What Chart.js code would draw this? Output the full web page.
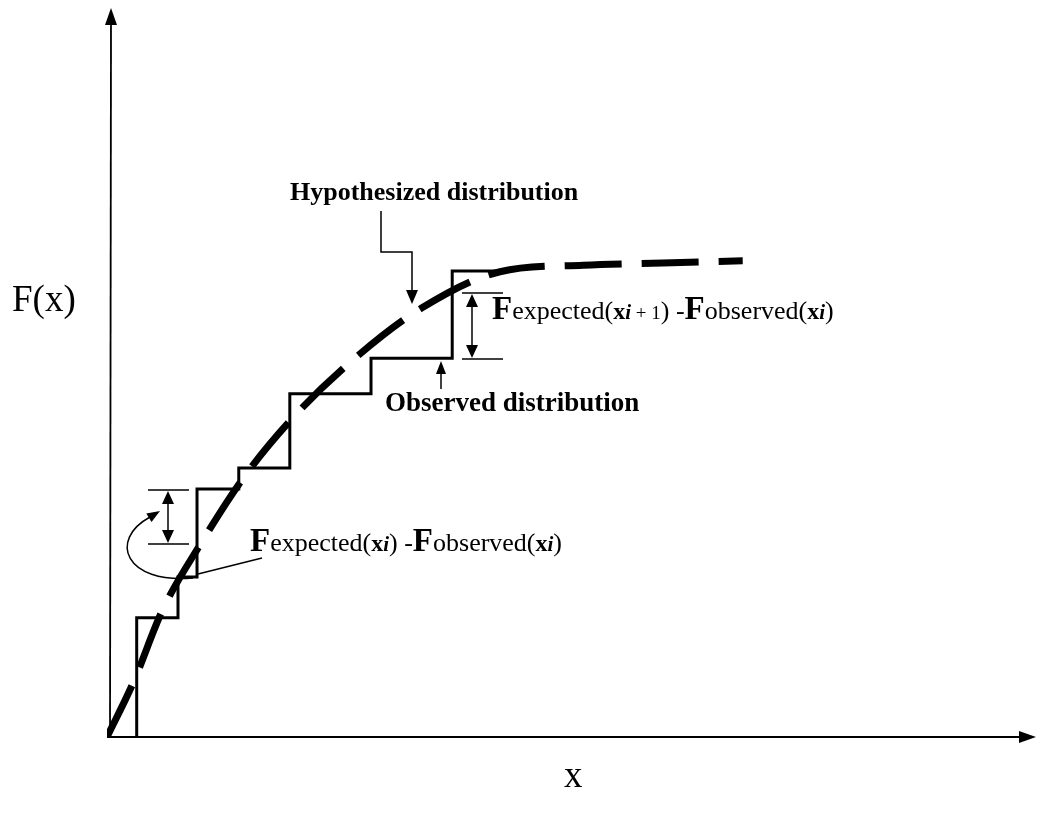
<!DOCTYPE html>
<html>
<head>
<meta charset="utf-8">
<script src="https://cdn.jsdelivr.net/npm/chart.js@4.4.1/dist/chart.umd.min.js"></script>
<style>
  html,body{margin:0;padding:0;background:#fff;}
  #wrap{width:1038px;height:815px;}
</style>
</head>
<body>
<div id="wrap"><canvas id="ks" width="1038" height="815"></canvas></div>
<script>
// observed (empirical) step function: riser positions and the level reached at each riser
const stepX = [0.32, 0.765, 0.97, 1.42, 1.97, 2.845, 3.72, 4.235];
const stepF = [0, 0.164, 0.22, 0.341, 0.37, 0.472, 0.521, 0.641];
// hypothesized distribution (dashed curve)
const hypX = [0, 0.28, 0.60, 1.02, 1.49, 2.06, 2.69, 3.39, 4.235, 5.13, 5.99, 6.85];
const hypF = [0, 0.074, 0.175, 0.268, 0.36, 0.447, 0.523, 0.59, 0.64, 0.649, 0.652, 0.655];

function byId(id){return document.getElementById(id);}

function stepPoints(){
  const pts = [{x:stepX[0], y:stepF[0]}];
  for(let i=0;i<stepX.length;i++){
    pts.push({x:stepX[i], y:stepF[i+1]!==undefined ? stepF[i+1] : stepF[i]});
    if(i+1<stepX.length) pts.push({x:stepX[i+1], y:stepF[i+1]});
  }
  return pts;
}

const SERIF = "'Liberation Serif', 'DejaVu Serif', serif";

function arrowHead(ctx, x, y, ang, len, half){
  ctx.save();
  ctx.translate(x,y); ctx.rotate(ang);
  ctx.beginPath();
  ctx.moveTo(0,0); ctx.lineTo(-len,-half); ctx.lineTo(-len,half); ctx.closePath();
  ctx.fill();
  ctx.restore();
}

function line(ctx, pts){
  ctx.beginPath(); ctx.moveTo(pts[0][0],pts[0][1]);
  for(let i=1;i<pts.length;i++) ctx.lineTo(pts[i][0],pts[i][1]);
  ctx.stroke();
}

function rich(ctx, x, y, segs){
  segs.forEach(s=>{ ctx.font = s.f; ctx.fillText(s.t, x, y + (s.dy||0)); x += ctx.measureText(s.t).width; });
}

function diffLabel(sub){
  const big = "bold 33px "+SERIF, reg = "26px "+SERIF, it = "italic bold 21px "+SERIF, xs = "bold 24px "+SERIF;
  const a = [{t:"F",f:big},{t:"expected",f:reg},{t:"(",f:reg},{t:"x",f:xs},{t:"i",f:it}];
  if(sub) a.push({t:" + 1",f:"19px "+SERIF});
  a.push({t:") -",f:reg},{t:"F",f:big},{t:"observed",f:reg},{t:"(",f:reg},{t:"x",f:xs},{t:"i",f:it},{t:")",f:reg});
  return a;
}

const overlay = {
  id:"overlay",
  afterDraw(chart){
    const ctx = chart.ctx, a = chart.chartArea;
    ctx.save();
    ctx.fillStyle = "#000"; ctx.strokeStyle = "#000";
    // axes
    ctx.lineWidth = 1.8;
    line(ctx, [[a.left+3, a.bottom],[a.left+4, a.top+14]]);
    arrowHead(ctx, a.left+4, a.top-2, -Math.PI/2, 17, 6);
    ctx.lineWidth = 2.2;
    line(ctx, [[a.left, a.bottom],[a.right-14, a.bottom]]);
    arrowHead(ctx, a.right+1, a.bottom, 0, 17, 6);

    ctx.lineWidth = 1.5;
    // hypothesized pointer
    line(ctx, [[381,211],[381,252],[412,252],[412,292]]);
    arrowHead(ctx, 412, 304, Math.PI/2, 14, 6);
    // observed pointer
    line(ctx, [[441,389],[441,372]]);
    arrowHead(ctx, 441, 361, -Math.PI/2, 13, 5);
    // right double arrow
    line(ctx, [[462,293],[503,293]]); line(ctx, [[462,359],[503,359]]);
    line(ctx, [[472,305],[472,347]]);
    arrowHead(ctx, 472, 294, -Math.PI/2, 13, 6); arrowHead(ctx, 472, 358, Math.PI/2, 13, 6);
    // left double arrow
    line(ctx, [[148,490],[189,490]]); line(ctx, [[148,544],[189,544]]);
    line(ctx, [[168,502],[168,532]]);
    arrowHead(ctx, 168, 491, -Math.PI/2, 13, 6); arrowHead(ctx, 168, 543, Math.PI/2, 13, 6);
    // label pointer and curved arrow
    line(ctx, [[198,574],[262,558]]);
    ctx.beginPath(); ctx.moveTo(193,578); ctx.bezierCurveTo(125,584,108,540,150,517); ctx.stroke();
    arrowHead(ctx, 160, 511, -0.55, 13, 5);

    // texts
    ctx.textBaseline = "alphabetic";
    ctx.font = "bold 26px "+SERIF;
    ctx.fillText("Hypothesized distribution", 290, 200);
    ctx.font = "bold 27px "+SERIF;
    ctx.fillText("Observed distribution", 385, 411);
    rich(ctx, 492, 319, diffLabel(true));
    rich(ctx, 250, 551, diffLabel(false));
    ctx.font = "37px "+SERIF;
    ctx.fillText("F(x)", 12, 311);
    ctx.fillText("x", 564, 787);
    ctx.restore();
  }
};

new Chart(byId("ks"), {
  type: "line",
  data: {
    datasets: [
      { label:"Observed distribution", data: stepPoints(), borderColor:"#000", borderWidth:3, pointRadius:0, tension:0, borderJoinStyle:"miter" },
      { label:"Hypothesized distribution", data: hypX.map((x,i)=>({x, y:hypF[i]})), borderColor:"#000", borderWidth:7, borderDash:[57,20], pointRadius:0, cubicInterpolationMode:"monotone" }
    ]
  },
  options: {
    responsive:false, animation:false, devicePixelRatio:1,
    layout:{ padding:{ left:107, top:10, right:3, bottom:78 } },
    plugins:{ legend:{display:false}, tooltip:{enabled:false} },
    scales:{
      x:{ type:"linear", min:0, max:10, display:false },
      y:{ type:"linear", min:0, max:1, display:false }
    }
  },
  plugins:[overlay]
});
</script>
</body>
</html>
